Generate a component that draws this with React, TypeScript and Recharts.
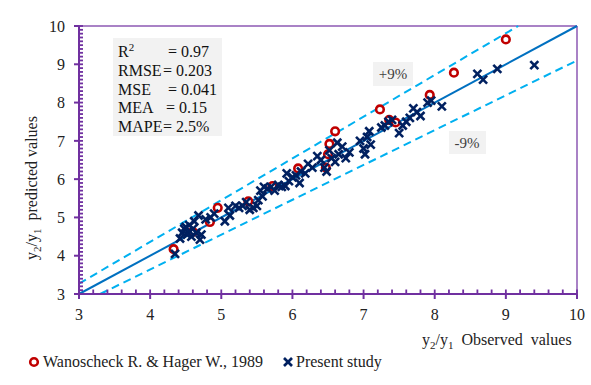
import React from 'react';
import { ScatterChart, Scatter, XAxis, YAxis, ReferenceLine } from 'recharts';

// ---- data ----
const wanoscheckObserved = [4.33, 4.6, 4.84, 4.95, 5.38, 5.72, 6.08, 6.47, 6.5, 6.52, 6.6, 7.23, 7.36, 7.45, 7.93, 8.27, 9.0];
const wanoscheckPredicted = [4.17, 4.62, 4.88, 5.25, 5.42, 5.82, 6.28, 6.3, 6.65, 6.92, 7.25, 7.82, 7.55, 7.48, 8.2, 8.78, 9.65];

const presentObserved = [
  4.35, 4.42, 4.45, 4.48, 4.5, 4.52, 4.55, 4.55, 4.58, 4.6, 4.62, 4.65, 4.68, 4.7, 4.72, 4.78, 4.85, 4.9,
  5.05, 5.1, 5.12, 5.2, 5.25, 5.3, 5.35, 5.4, 5.45, 5.5, 5.52, 5.55, 5.58, 5.6, 5.65, 5.7, 5.75, 5.8, 5.85,
  5.9, 5.92, 5.95, 6.0, 6.05, 6.1, 6.12, 6.18, 6.22, 6.28, 6.35, 6.4, 6.45, 6.48, 6.52, 6.55, 6.6, 6.63,
  6.65, 6.7, 6.75, 6.8, 6.95, 7.0, 7.02, 7.05, 7.08, 7.1, 7.25, 7.3, 7.35, 7.4, 7.5, 7.55, 7.6, 7.65, 7.7,
  7.75, 7.8, 7.9, 7.95, 8.1, 8.6, 8.68, 8.88, 9.4,
];
const presentPredicted = [
  4.05, 4.45, 4.6, 4.7, 4.75, 4.55, 4.65, 4.8, 4.5, 4.7, 4.9, 4.6, 5.05, 4.42, 4.55, 4.95, 5.0, 5.1,
  4.9, 5.25, 5.05, 5.3, 5.25, 5.3, 5.4, 5.2, 5.25, 5.3, 5.45, 5.7, 5.55, 5.8, 5.75, 5.8, 5.7, 5.85, 5.8,
  5.82, 6.15, 5.95, 6.05, 6.1, 5.9, 6.2, 6.15, 6.4, 6.3, 6.6, 6.5, 6.3, 6.2, 6.75, 6.55, 6.45, 6.95,
  6.65, 6.85, 6.55, 6.7, 7.0, 6.8, 6.65, 7.1, 7.25, 6.9, 7.35, 7.4, 7.5, 7.55, 7.2, 7.4, 7.5, 7.6, 7.85,
  7.75, 7.65, 8.0, 8.05, 7.9, 8.75, 8.6, 8.88, 8.98,
];

const MAJOR_TICKS = [3, 4, 5, 6, 7, 8, 9, 10];
const DOMAIN_MIN = 3;
const DOMAIN_MAX = 10;
const BAND = 0.09;

const STAT_LABELS = ['R', 'RMSE', 'MSE', 'MEA', 'MAPE'];
const STAT_VALUES = ['= 0.97', '= 0.203', '= 0.041', '= 0.15', '= 2.5%'];

const SERIES_NAMES = ['Wanoscheck R. & Hager W., 1989', 'Present study'];

// ---- styles ----
const PURPLE = '#7030A0';
const RED = '#C00000';
const NAVY = '#002060';
const LINE_BLUE = '#0070C0';
const DASH_BLUE = '#00B0F0';
const FONT = "'Liberation Serif', 'Times New Roman', serif";

const wanoscheckData = wanoscheckObserved.map((x, i) => ({ x, y: wanoscheckPredicted[i] }));
const presentData = presentObserved.map((x, i) => ({ x, y: presentPredicted[i] }));

// inner (minor + major) tick marks, placed on the axes through the chart scales
const xTickMarks: { x: number; y: number }[] = [];
for (let i = 30; i <= 100; i += 2) xTickMarks.push({ x: i / 10, y: DOMAIN_MIN });
const yTickMarks: { x: number; y: number }[] = [];
for (let i = 30; i <= 100; i += 1) yTickMarks.push({ x: DOMAIN_MIN, y: i / 10 });

const XTickMark = (p: any) => <rect x={p.cx - 0.9} y={p.cy - 4.5} width={1.8} height={4.5} fill={PURPLE} />;
const YTickMark = (p: any) => <rect x={p.cx} y={p.cy - 0.9} width={4} height={1.8} fill={PURPLE} />;

const CrossMark = ({ cx, cy }: { cx: number; cy: number }) => (
  <g>
    <line x1={cx - 4} y1={cy - 4} x2={cx + 4} y2={cy + 4} stroke={NAVY} strokeWidth={2.6} />
    <line x1={cx - 4} y1={cy + 4} x2={cx + 4} y2={cy - 4} stroke={NAVY} strokeWidth={2.6} />
  </g>
);

const RingMark = ({ cx, cy }: { cx: number; cy: number }) => (
  <circle cx={cx} cy={cy} r={3.8} fill="#fff" stroke={RED} strokeWidth={2.6} />
);

const statX = [168, 163, 168, 166, 163];
const tickText = { fill: '#222', fontSize: 16 };

export default function App() {
  return (
    <div style={{ position: 'absolute', left: 0, top: 0, width: 591, height: 385, background: '#fff', fontFamily: FONT }}>
      <svg width={591} height={385} style={{ position: 'absolute', left: 0, top: 0, fontFamily: FONT }}>
        {/* stats box */}
        <rect x={113} y={38} width={109} height={98} fill="#F2F2F2" />
        {STAT_LABELS.map((lab, i) => (
          <g key={lab}>
            <text x={118} y={57 + i * 18.8} fontSize={16} fill="#111">
              {lab}
              {i === 0 && (
                <tspan dy={-6} fontSize={11}>
                  2
                </tspan>
              )}
            </text>
            <text x={statX[i]} y={57 + i * 18.8} fontSize={16} fill="#111">
              {STAT_VALUES[i]}
            </text>
          </g>
        ))}
        {/* band labels */}
        <rect x={373} y={62} width={40} height={24} fill="#F2F2F2" />
        <text x={393} y={79} textAnchor="middle" fontSize={15} fill="#404040">
          +9%
        </text>
        <rect x={449} y={131} width={37} height={23} fill="#F2F2F2" />
        <text x={467} y={148} textAnchor="middle" fontSize={15} fill="#404040">
          -9%
        </text>
        {/* axis titles */}
        <text transform="translate(37,188) rotate(-90)" textAnchor="middle" fontSize={16} fill="#222">
          y<tspan dy={4} fontSize={11}>2</tspan>
          <tspan dy={-4}>/y</tspan>
          <tspan dy={4} fontSize={11}>1</tspan>
          <tspan dy={-4}>{'\u00a0 predicted values'}</tspan>
        </text>
        <text x={422} y={345} fontSize={16} fill="#222">
          y<tspan dy={4} fontSize={11}>2</tspan>
          <tspan dy={-4}>/y</tspan>
          <tspan dy={4} fontSize={11}>1</tspan>
          <tspan dy={-4}>{'\u00a0 Observed\u00a0 values'}</tspan>
        </text>
        {/* legend */}
        <RingMark cx={34} cy={362} />
        <text x={43} y={367} fontSize={16} fill="#222">
          {SERIES_NAMES[0]}
        </text>
        <CrossMark cx={288} cy={362} />
        <text x={296} y={367} fontSize={16} fill="#222">
          {SERIES_NAMES[1]}
        </text>
      </svg>
      <ScatterChart width={591} height={385} margin={{ top: 26, right: 14, bottom: 61, left: 0 }}>
        <XAxis
          dataKey="x"
          type="number"
          domain={[DOMAIN_MIN, DOMAIN_MAX]}
          ticks={MAJOR_TICKS}
          interval={0}
          height={30}
          stroke={PURPLE}
          strokeWidth={2}
          tickSize={5}
          tickMargin={10}
          tickLine={{ stroke: PURPLE, strokeWidth: 2 }}
          tick={tickText}
        />
        <YAxis
          dataKey="y"
          type="number"
          domain={[DOMAIN_MIN, DOMAIN_MAX]}
          ticks={MAJOR_TICKS}
          interval={0}
          width={79}
          stroke={PURPLE}
          strokeWidth={2}
          tickSize={5}
          tickMargin={9}
          tickLine={{ stroke: PURPLE, strokeWidth: 2 }}
          tick={tickText}
        />
        <ReferenceLine y={DOMAIN_MAX} stroke={PURPLE} strokeWidth={1.5} strokeOpacity={0.8} />
        <ReferenceLine x={DOMAIN_MAX} stroke={PURPLE} strokeWidth={1.5} strokeOpacity={0.8} />
        <Scatter
          data={xTickMarks}
          isAnimationActive={false}
          legendType="none"
          shape={(p: any) => <XTickMark {...p} />}
        />
        <Scatter
          data={yTickMarks}
          isAnimationActive={false}
          legendType="none"
          shape={(p: any) => <YTickMark {...p} />}
        />
        <Scatter
          name={SERIES_NAMES[0]}
          data={wanoscheckData}
          isAnimationActive={false}
          shape={(p: any) => <RingMark cx={p.cx} cy={p.cy} />}
        />
        <Scatter
          name={SERIES_NAMES[1]}
          data={presentData}
          isAnimationActive={false}
          shape={(p: any) => <CrossMark cx={p.cx} cy={p.cy} />}
        />
        <ReferenceLine
          segment={[
            { x: DOMAIN_MIN, y: DOMAIN_MIN },
            { x: DOMAIN_MAX, y: DOMAIN_MAX },
          ]}
          stroke={LINE_BLUE}
          strokeWidth={2}
        />
        <ReferenceLine
          segment={[
            { x: DOMAIN_MIN, y: DOMAIN_MIN * (1 + BAND) },
            { x: DOMAIN_MAX / (1 + BAND), y: DOMAIN_MAX },
          ]}
          stroke={DASH_BLUE}
          strokeWidth={2}
          strokeDasharray="8 5"
        />
        <ReferenceLine
          segment={[
            { x: DOMAIN_MIN / (1 - BAND), y: DOMAIN_MIN },
            { x: DOMAIN_MAX, y: DOMAIN_MAX * (1 - BAND) },
          ]}
          stroke={DASH_BLUE}
          strokeWidth={2}
          strokeDasharray="8 5"
        />
      </ScatterChart>
    </div>
  );
}
